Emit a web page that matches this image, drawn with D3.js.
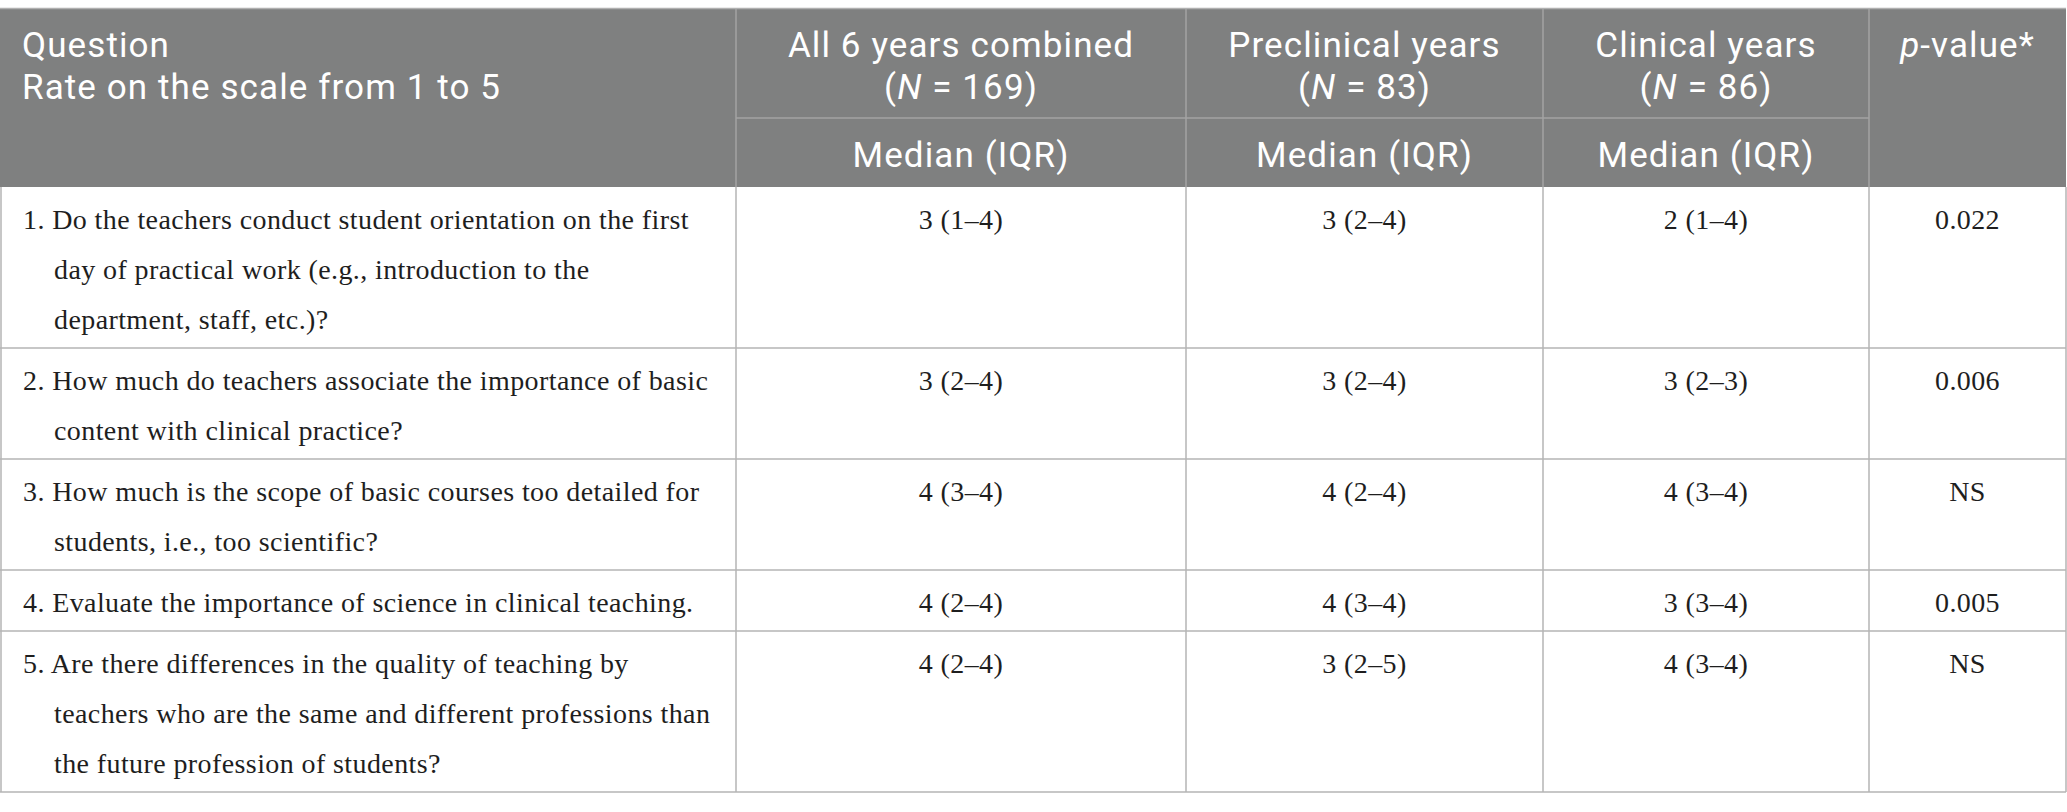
<!DOCTYPE html>
<html>
<head>
<meta charset="utf-8">
<script src="https://cdn.jsdelivr.net/npm/d3@7"></script>
<style>
  html, body { margin: 0; padding: 0; background: #fff; }
  svg { display: block; }
</style>
</head>
<body>
<svg id="table"></svg>
<script>
// table content
const questionLines = [
  ["1. Do the teachers conduct student orientation on the first",
   "day of practical work (e.g., introduction to the",
   "department, staff, etc.)?"],
  ["2. How much do teachers associate the importance of basic",
   "content with clinical practice?"],
  ["3. How much is the scope of basic courses too detailed for",
   "students, i.e., too scientific?"],
  ["4. Evaluate the importance of science in clinical teaching."],
  ["5. Are there differences in the quality of teaching by",
   "teachers who are the same and different professions than",
   "the future profession of students?"]
];
const allYears    = ["3 (1\u20134)", "3 (2\u20134)", "4 (3\u20134)", "4 (2\u20134)", "4 (2\u20134)"];
const preclinical = ["3 (2\u20134)", "3 (2\u20134)", "4 (2\u20134)", "4 (3\u20134)", "3 (2\u20135)"];
const clinical    = ["2 (1\u20134)", "3 (2\u20133)", "4 (3\u20134)", "3 (3\u20134)", "4 (3\u20134)"];
const pValues     = ["0.022", "0.006", "NS", "0.005", "NS"];

const groupNames = ["All 6 years combined", "Preclinical years", "Clinical years"];
const groupN     = [169, 83, 86];
const subHeader  = "Median (IQR)";

const width = 2067, height = 812;
const svg = d3.select("#table").attr("width", width).attr("height", height);

// column edges
const colEdges = [0, 736, 1186, 1543, 1869, 2066];
const colMid = i => (colEdges[i] + colEdges[i + 1]) / 2;

const headTop = 9, headSplit = 118, headBottom = 187;
const lineH = 50;

// row layout from line counts
let y0 = headBottom;
const rows = questionLines.map((lines, i) => {
  const h = lines.length * lineH + 11;
  const r = { i, lines, y: y0, h };
  y0 += h;
  return r;
});
const tableBottom = y0;

const headFont = "Roboto, 'Open Sans', sans-serif";
const bodyFont = "'Liberation Serif', 'DejaVu Serif', serif";

// header background
svg.append("rect")
  .attr("x", 0).attr("y", headTop)
  .attr("width", colEdges[5]).attr("height", headBottom - headTop)
  .attr("fill", "#7f8080");
svg.append("line")
  .attr("x1", 0).attr("x2", colEdges[5]).attr("y1", headTop - 0.5).attr("y2", headTop - 0.5)
  .attr("stroke", "#b0b0b0").attr("stroke-width", 1.5);

// header grid
const hg = svg.append("g").attr("stroke", "#a3a3a3").attr("stroke-width", 1.5);
[1, 2, 3, 4].forEach(c => {
  hg.append("line").attr("x1", colEdges[c]).attr("x2", colEdges[c])
    .attr("y1", headTop).attr("y2", headBottom);
});
hg.append("line").attr("x1", colEdges[1]).attr("x2", colEdges[4])
  .attr("y1", headSplit).attr("y2", headSplit);

// header text
const ht = svg.append("g").attr("fill", "#fff")
  .style("font-family", headFont).style("font-size", "35px")
  .style("letter-spacing", "1.1px");

const q = ht.append("text").attr("x", 22).attr("y", 57);
q.append("tspan").attr("x", 22).text("Question");
q.append("tspan").attr("x", 22).attr("dy", 42).text("Rate on the scale from 1 to 5");

groupNames.forEach((g, i) => {
  const t = ht.append("text").attr("x", colMid(i + 1)).attr("y", 57)
    .attr("text-anchor", "middle");
  t.append("tspan").attr("x", colMid(i + 1)).text(g);
  t.append("tspan").attr("x", colMid(i + 1)).attr("dy", 42).text("(");
  t.append("tspan").style("font-style", "italic").text("N");
  t.append("tspan").text(" = " + groupN[i] + ")");
  ht.append("text").attr("x", colMid(i + 1)).attr("y", 167)
    .attr("text-anchor", "middle").text(subHeader);
});

const pv = ht.append("text").attr("x", colMid(4)).attr("y", 57).attr("text-anchor", "middle");
pv.append("tspan").style("font-style", "italic").text("p");
pv.append("tspan").text("-value*");

// body grid
const bg = svg.append("g").attr("stroke", "#b5b5b5").attr("stroke-width", 1.5);
rows.forEach(r => {
  bg.append("line").attr("x1", 0).attr("x2", colEdges[5])
    .attr("y1", r.y + r.h).attr("y2", r.y + r.h);
});
colEdges.forEach(x => {
  bg.append("line").attr("x1", x + (x === 0 ? 1 : 0)).attr("x2", x + (x === 0 ? 1 : 0))
    .attr("y1", headBottom).attr("y2", tableBottom);
});

// body text
const bt = svg.append("g").attr("fill", "#1e1e1e")
  .style("font-family", bodyFont).style("font-size", "28px")
  .style("letter-spacing", "0.4px");

const rowG = bt.selectAll("g.row").data(rows).join("g").attr("class", "row");

rowG.each(function (r) {
  const g = d3.select(this);
  // question text as one block, wrapped lines hang-indented
  const t = g.append("text").attr("y", r.y + 42);
  r.lines.forEach((ln, k) => {
    t.append("tspan")
      .attr("x", k === 0 ? 23 : 54)
      .attr("dy", k === 0 ? 0 : lineH)
      .text(ln);
  });
  [allYears, preclinical, clinical, pValues].forEach((col, c) => {
    g.append("text")
      .attr("x", colMid(c + 1))
      .attr("y", r.y + 42)
      .attr("text-anchor", "middle")
      .text(col[r.i]);
  });
});
</script>
</body>
</html>
